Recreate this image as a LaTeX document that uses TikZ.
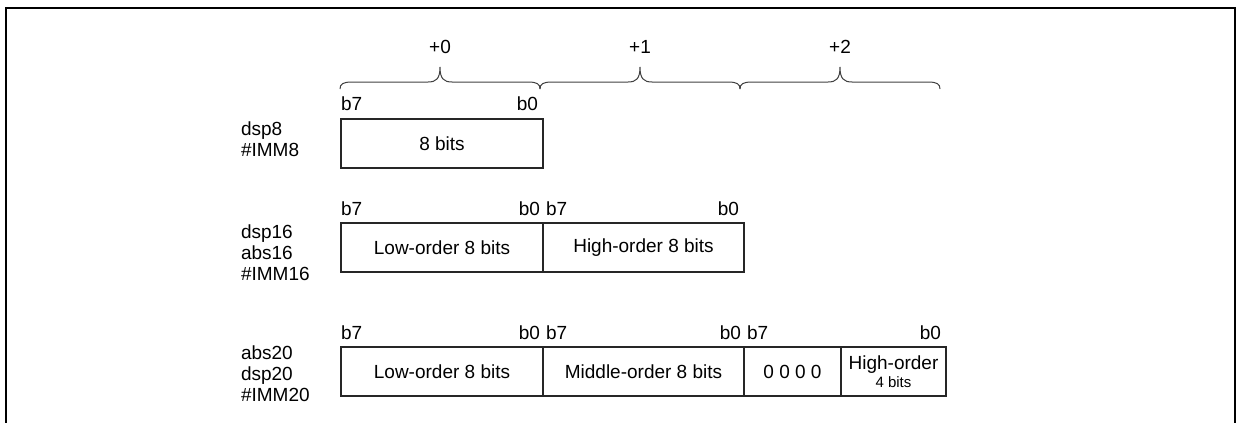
\documentclass[tikz,border=0pt]{standalone}
\usepackage{fontspec}
\setmainfont{Liberation Sans}
\begin{document}
\begin{tikzpicture}[x=1pt,y=-1pt,
  txt/.style={font=\fontsize{19}{21}\selectfont, inner sep=0pt, outer sep=0pt},
  lbl/.style={txt, anchor=base west},
  bitl/.style={txt, anchor=base west},
  bitr/.style={txt, anchor=base east},
  cell/.style={draw=black!85, line width=1.2pt, inner sep=0pt, outer sep=0pt,
    minimum height=49pt, font=\fontsize{19}{21}\selectfont, align=center},
  brc/.style={draw=black!75, line width=1pt},
  frm/.style={draw=black, line width=2pt}]
\useasboundingbox (0,0) rectangle (1237,423);
\draw[frm] (6,423) -- (6,8) -- (1235,8) -- (1235,423);

% offsets and braces
\node[txt] (p0) at (440,47) {+0};
\node[txt] (p1) at (640,47) {+1};
\node[txt] (p2) at (840,47) {+2};
\foreach \a in {340,540,740} {
  \draw[brc] (\a,89) .. controls (\a,84) and (\a+3,82) .. (\a+12,82)
    -- (\a+88,82) .. controls (\a+96,82) and (\a+100,79) .. (\a+100,67)
    .. controls (\a+100,79) and (\a+104,82) .. (\a+112,82)
    -- (\a+188,82) .. controls (\a+197,82) and (\a+200,84) .. (\a+200,89);
}

% row 1
\node[lbl] (l1a) at (241,135) {dsp8};
\node[lbl] (l1b) at (241,156) {\#IMM8};
\node[bitl] (r1b7a) at (341,110) {b7};
\node[bitr] (r1b0a) at (538,110) {b0};
\node[cell, minimum width=202pt] (c11) at (442,143.5) {8 bits};

% row 2
\node[lbl] (l2a) at (241,238) {dsp16};
\node[lbl] (l2b) at (241,259) {abs16};
\node[lbl] (l2c) at (241,280) {\#IMM16};
\node[bitl] (r2b7a) at (341,215) {b7};
\node[bitr] (r2b0a) at (540,215) {b0};
\node[bitl] (r2b7b) at (546,215) {b7};
\node[bitr] (r2b0b) at (739,215) {b0};
\node[cell, minimum width=202pt] (c21) at (442,247.5) {Low-order 8 bits};
\node[cell, minimum width=201pt] (c22) at (643.5,247.5) {High-order 8 bits};

% row 3
\node[lbl] (l3a) at (241,359) {abs20};
\node[lbl] (l3b) at (241,380) {dsp20};
\node[lbl] (l3c) at (241,401) {\#IMM20};
\node[bitl] (r3b7a) at (341,339) {b7};
\node[bitr] (r3b0a) at (540,339) {b0};
\node[bitl] (r3b7b) at (546,339) {b7};
\node[bitr] (r3b0b) at (741,339) {b0};
\node[bitl] (r3b7c) at (747,339) {b7};
\node[bitr] (r3b0c) at (941,339) {b0};
\node[cell, minimum width=202pt] (c31) at (442,371.5) {Low-order 8 bits};
\node[cell, minimum width=201pt] (c32) at (643.5,371.5) {Middle-order 8 bits};
\node[cell, minimum width=97pt] (c33) at (792.5,371.5) {0 0 0 0};
\node[cell, minimum width=105pt] (c34) at (893.5,371.5) {High-order\\[-3pt]{\fontsize{15}{15}\selectfont 4 bits}};
\end{tikzpicture}
\end{document}
